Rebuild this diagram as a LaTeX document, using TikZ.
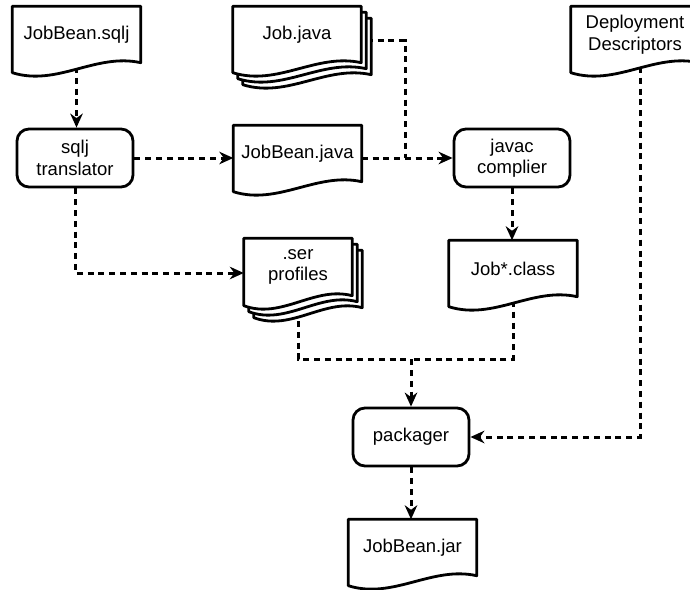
\documentclass[tikz,border=0pt]{standalone}
\usepackage{fontspec}
\setmainfont{Liberation Sans}
\usetikzlibrary{arrows.meta,calc}

\pgfdeclarelayer{background}
\pgfdeclarelayer{pages}
\pgfsetlayers{background,pages,main}

% page with a wavy lower edge round node #1, moved by (#2,#3)
\newcommand{\docpage}[3]{%
  \begin{pgfonlayer}{pages}
  \draw[docline] ($(#1.north west)+(#2,#3)$) -- ($(#1.north east)+(#2,#3)$)
    -- ($(#1.south east)+(#2,#3)$)
    .. controls ($(#1.south east)!0.35!(#1.south west)+(#2,#3-10)$)
    and ($(#1.south east)!0.65!(#1.south west)+(#2,#3+24)$)
    .. ($(#1.south west)+(#2,#3+10)$) -- cycle;
  \end{pgfonlayer}}

\begin{document}
\begin{tikzpicture}[x=1pt, y=-1pt,
    font=\fontsize{18.5}{21.5}\selectfont,
    proc/.style={rectangle, rounded corners=12pt, draw, line width=2.8pt, fill=white, minimum width=116pt, minimum height=58pt, align=center},
    doc/.style={rectangle, minimum width=128pt, minimum height=56pt, inner sep=0pt, align=center},
    docline/.style={line width=2.8pt, fill=white, line join=round},
    flow/.style={line width=3pt, dash pattern=on 6pt off 4.8pt},
    >={Stealth[length=14pt, width=12.5pt, inset=4.5pt]}
]
    \useasboundingbox (0,0) rectangle (690,589);

    % Sources and tools
    \node[doc] (sqljsrc) at (76.5,34.5) {JobBean.sqlj};
    \node[doc] (jobjava) at (297,34.5) {Job.java};
    \node[doc] (deploy) at (635,34.5) {Deployment\\Descriptors};
    \node[proc] (translator) at (75,158) {sqlj\\translator};
    \node[doc] (jbjava) at (297.5,153.5) {JobBean.java};
    \node[proc] (javac) at (512,158) {javac\\complier};
    \node[doc, minimum width=108pt, minimum height=57pt] (ser) at (298,267) {.ser\\profiles};
    \node[doc] (jobclass) at (513,268.5) {Job*.class};
    \node[proc] (packager) at (411,437) {packager};
    \node[doc] (jar) at (412.5,547.5) {JobBean.jar};

    % Page outlines (stacks drawn back to front)
    \docpage{sqljsrc}{0}{0}
    \foreach \d in {10,5,0} {
        \docpage{jobjava}{\d}{1.2*\d}
        \docpage{ser}{\d}{1.2*\d}
    }
    \docpage{deploy}{0}{0}
    \docpage{jbjava}{0}{0}
    \docpage{jobclass}{0}{0}
    \docpage{jar}{0}{0}

    \coordinate (jobstack) at ($(jobjava.center)+(5,6)$);
    \coordinate (jmerge) at (405,158);
    \coordinate (pmerge) at (411,359);

    % Build flow
    \begin{pgfonlayer}{background}
    \fill[white] (0,0) rectangle (690,589);
    \draw[flow,->] (sqljsrc.center) -- (sqljsrc.center |- translator.north);
    \draw[flow,->] (translator.east) -- (translator.east -| jbjava.west);
    \draw[flow,->] (javac.west -| jbjava.east) -- (javac.west);
    \draw[flow] (jobstack) -| (jmerge);
    \draw[flow,->] (translator.south) |- ($(ser.west)+(0,6)$);
    \draw[flow,->] (javac.south) -- (javac.south |- jobclass.north);
    \draw[flow,->] (ser.center) |- (pmerge) -- (packager.north);
    \draw[flow] (jobclass.center) |- (pmerge);
    \draw[flow,->] ($(deploy.center)+(5,0)$) |- (packager.east);
    \draw[flow,->] (packager.south) -- (packager.south |- jar.north);
    \end{pgfonlayer}
\end{tikzpicture}
\end{document}
